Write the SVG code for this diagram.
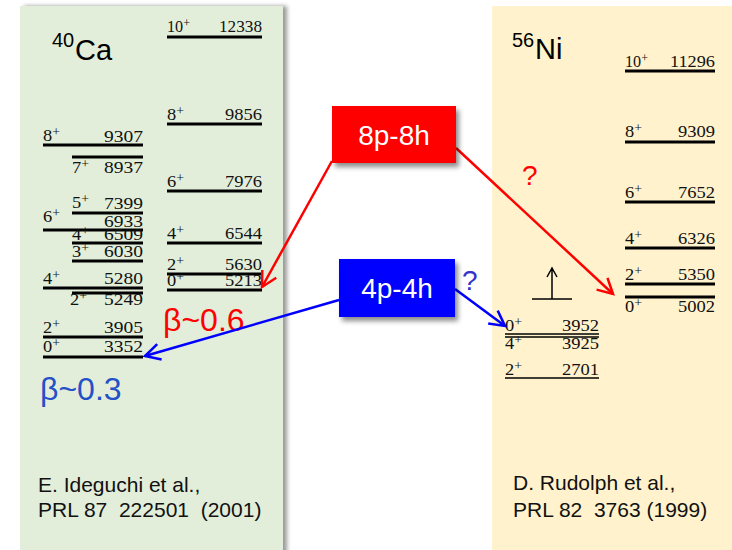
<svg xmlns="http://www.w3.org/2000/svg" width="732" height="550" viewBox="0 0 732 550">
<style>
.lv{font-family:"Liberation Serif","Times New Roman",serif;font-size:16px;fill:#111}
.en{font-family:"Liberation Serif","Times New Roman",serif;font-size:16px;fill:#111;text-anchor:end}
.sup{font-size:12px}
.thick{stroke:#000;stroke-width:3;fill:none}
.thin{stroke:#000;stroke-width:1.5;fill:none}
.sans{font-family:"Liberation Sans",Arial,sans-serif}
.ref{font-family:"Liberation Sans",Arial,sans-serif;font-size:21px;fill:#111}
.box{font-family:"Liberation Sans",Arial,sans-serif;font-size:28px;fill:#fff;text-anchor:middle}
</style>
<defs>
<filter id="sh" x="-10%" y="-10%" width="130%" height="140%">
<feDropShadow dx="3" dy="4" stdDeviation="2.5" flood-color="#000" flood-opacity="0.45"/>
</filter>
<filter id="psh" x="-5%" y="-5%" width="115%" height="110%">
<feDropShadow dx="4" dy="0" stdDeviation="2" flood-color="#000" flood-opacity="0.4"/>
</filter>
<marker id="ahR" viewBox="-17 -10 20 20" markerWidth="20" markerHeight="20" refX="0" refY="0" orient="auto" markerUnits="userSpaceOnUse">
<path d="M-15,-8 L0,0 L-15,8" fill="none" stroke="#ff0000" stroke-width="2.5"/>
</marker>
<marker id="ahB" viewBox="-17 -10 20 20" markerWidth="20" markerHeight="20" refX="0" refY="0" orient="auto" markerUnits="userSpaceOnUse">
<path d="M-15,-8 L0,0 L-15,8" fill="none" stroke="#0000ff" stroke-width="2.5"/>
</marker>
</defs>
<rect width="732" height="550" fill="#fff"/>

<g id="panel-ca">
<rect x="20" y="6" width="263" height="550" fill="#e2eed9" filter="url(#psh)"/>
<text x="52" y="47" class="sans" font-size="20" fill="#000">40</text>
<text x="75" y="60" class="sans" font-size="29" fill="#000">Ca</text>
<!-- left column -->
<text x="43" y="141" class="lv" textLength="17" lengthAdjust="spacingAndGlyphs">8<tspan class="sup" dy="-5">+</tspan></text><text x="143" y="142" class="en" textLength="39" lengthAdjust="spacingAndGlyphs">9307</text>
<line x1="43" y1="145" x2="143" y2="145" class="thick"/>
<line x1="72" y1="157" x2="143" y2="157" class="thick"/>
<text x="72" y="173" class="lv" textLength="17" lengthAdjust="spacingAndGlyphs">7<tspan class="sup" dy="-5">+</tspan></text><text x="143" y="173" class="en" textLength="39" lengthAdjust="spacingAndGlyphs">8937</text>
<text x="72" y="208" class="lv" textLength="17" lengthAdjust="spacingAndGlyphs">5<tspan class="sup" dy="-5">+</tspan></text><text x="143" y="209" class="en" textLength="39" lengthAdjust="spacingAndGlyphs">7399</text>
<line x1="72" y1="213" x2="143" y2="213" class="thick"/>
<text x="43" y="222" class="lv" textLength="17" lengthAdjust="spacingAndGlyphs">6<tspan class="sup" dy="-5">+</tspan></text><text x="143" y="227" class="en" textLength="39" lengthAdjust="spacingAndGlyphs">6933</text>
<line x1="43" y1="230" x2="143" y2="230" class="thick"/>
<text x="72" y="240" class="lv" textLength="17" lengthAdjust="spacingAndGlyphs">4<tspan class="sup" dy="-5">+</tspan></text><text x="143" y="240" class="en" textLength="39" lengthAdjust="spacingAndGlyphs">6509</text>
<line x1="72" y1="243" x2="143" y2="243" class="thick"/>
<text x="72" y="257" class="lv" textLength="17" lengthAdjust="spacingAndGlyphs">3<tspan class="sup" dy="-5">+</tspan></text><text x="143" y="257" class="en" textLength="39" lengthAdjust="spacingAndGlyphs">6030</text>
<line x1="72" y1="261" x2="143" y2="261" class="thick"/>
<text x="43" y="284" class="lv" textLength="17" lengthAdjust="spacingAndGlyphs">4<tspan class="sup" dy="-5">+</tspan></text><text x="143" y="284" class="en" textLength="39" lengthAdjust="spacingAndGlyphs">5280</text>
<line x1="43" y1="288" x2="143" y2="288" class="thick"/>
<line x1="72" y1="293" x2="143" y2="293" class="thick"/>
<text x="70" y="305" class="lv" textLength="17" lengthAdjust="spacingAndGlyphs">2<tspan class="sup" dy="-5">+</tspan></text><text x="143" y="305" class="en" textLength="39" lengthAdjust="spacingAndGlyphs">5249</text>
<text x="43" y="333" class="lv" textLength="17" lengthAdjust="spacingAndGlyphs">2<tspan class="sup" dy="-5">+</tspan></text><text x="143" y="333" class="en" textLength="39" lengthAdjust="spacingAndGlyphs">3905</text>
<line x1="43" y1="337" x2="143" y2="337" class="thick"/>
<text x="43" y="352" class="lv" textLength="17" lengthAdjust="spacingAndGlyphs">0<tspan class="sup" dy="-5">+</tspan></text><text x="143" y="352" class="en" textLength="39" lengthAdjust="spacingAndGlyphs">3352</text>
<line x1="43" y1="357" x2="143" y2="357" class="thick"/>
<!-- right column -->
<text x="167" y="32" class="lv" textLength="23" lengthAdjust="spacingAndGlyphs">10<tspan class="sup" dy="-5">+</tspan></text><text x="262" y="32" class="en" textLength="43" lengthAdjust="spacingAndGlyphs">12338</text>
<line x1="167" y1="37" x2="262" y2="37" class="thick"/>
<text x="167" y="120" class="lv" textLength="17" lengthAdjust="spacingAndGlyphs">8<tspan class="sup" dy="-5">+</tspan></text><text x="262" y="120" class="en" textLength="37" lengthAdjust="spacingAndGlyphs">9856</text>
<line x1="167" y1="124" x2="262" y2="124" class="thick"/>
<text x="167" y="187" class="lv" textLength="17" lengthAdjust="spacingAndGlyphs">6<tspan class="sup" dy="-5">+</tspan></text><text x="262" y="187" class="en" textLength="37" lengthAdjust="spacingAndGlyphs">7976</text>
<line x1="167" y1="191" x2="262" y2="191" class="thick"/>
<text x="167" y="239" class="lv" textLength="17" lengthAdjust="spacingAndGlyphs">4<tspan class="sup" dy="-5">+</tspan></text><text x="262" y="239" class="en" textLength="37" lengthAdjust="spacingAndGlyphs">6544</text>
<line x1="167" y1="243" x2="262" y2="243" class="thick"/>
<text x="167" y="270" class="lv" textLength="17" lengthAdjust="spacingAndGlyphs">2<tspan class="sup" dy="-5">+</tspan></text><text x="262" y="270" class="en" textLength="37" lengthAdjust="spacingAndGlyphs">5630</text>
<line x1="167" y1="274" x2="262" y2="274" class="thick"/>
<text x="167" y="286" class="lv" textLength="17" lengthAdjust="spacingAndGlyphs">0<tspan class="sup" dy="-5">+</tspan></text><text x="262" y="286" class="en" textLength="37" lengthAdjust="spacingAndGlyphs">5213</text>
<line x1="167" y1="290" x2="262" y2="290" class="thick"/>
<text x="163" y="331" class="sans" font-size="32" fill="#ff0000">β~0.6</text>
<text x="40" y="400" class="sans" font-size="32" fill="#2450c8">β~0.3</text>
<text x="38" y="492" class="ref">E. Ideguchi et al.,</text>
<text x="38" y="517" class="ref" xml:space="preserve">PRL 87  222501  (2001)</text>
</g>

<g id="panel-ni">
<rect x="492" y="6" width="245" height="550" fill="#fff2cc"/>
<text x="512" y="47" class="sans" font-size="20" fill="#000">56</text>
<text x="535" y="59" class="sans" font-size="29" fill="#000">Ni</text>
<text x="625" y="67" class="lv" textLength="23" lengthAdjust="spacingAndGlyphs">10<tspan class="sup" dy="-5">+</tspan></text><text x="715" y="67" class="en" textLength="45" lengthAdjust="spacingAndGlyphs">11296</text>
<line x1="625" y1="71" x2="715" y2="71" class="thick"/>
<text x="625" y="137" class="lv" textLength="17" lengthAdjust="spacingAndGlyphs">8<tspan class="sup" dy="-5">+</tspan></text><text x="715" y="137" class="en" textLength="37" lengthAdjust="spacingAndGlyphs">9309</text>
<line x1="625" y1="142" x2="715" y2="142" class="thick"/>
<text x="625" y="198" class="lv" textLength="17" lengthAdjust="spacingAndGlyphs">6<tspan class="sup" dy="-5">+</tspan></text><text x="715" y="198" class="en" textLength="37" lengthAdjust="spacingAndGlyphs">7652</text>
<line x1="625" y1="202" x2="715" y2="202" class="thick"/>
<text x="625" y="244" class="lv" textLength="17" lengthAdjust="spacingAndGlyphs">4<tspan class="sup" dy="-5">+</tspan></text><text x="715" y="244" class="en" textLength="37" lengthAdjust="spacingAndGlyphs">6326</text>
<line x1="625" y1="248" x2="715" y2="248" class="thick"/>
<text x="625" y="280" class="lv" textLength="17" lengthAdjust="spacingAndGlyphs">2<tspan class="sup" dy="-5">+</tspan></text><text x="715" y="280" class="en" textLength="37" lengthAdjust="spacingAndGlyphs">5350</text>
<line x1="625" y1="284" x2="715" y2="284" class="thick"/>
<line x1="625" y1="297" x2="715" y2="297" class="thick"/>
<text x="625" y="312" class="lv" textLength="17" lengthAdjust="spacingAndGlyphs">0<tspan class="sup" dy="-5">+</tspan></text><text x="715" y="312" class="en" textLength="37" lengthAdjust="spacingAndGlyphs">5002</text>
<text x="505" y="331" class="lv" textLength="17" lengthAdjust="spacingAndGlyphs">0<tspan class="sup" dy="-5">+</tspan></text><text x="599" y="331" class="en" textLength="37" lengthAdjust="spacingAndGlyphs">3952</text>
<line x1="505" y1="334" x2="599" y2="334" class="thin"/>
<line x1="505" y1="337" x2="599" y2="337" class="thin"/>
<text x="505" y="349" class="lv" textLength="17" lengthAdjust="spacingAndGlyphs">4<tspan class="sup" dy="-5">+</tspan></text><text x="599" y="349" class="en" textLength="37" lengthAdjust="spacingAndGlyphs">3925</text>
<text x="505" y="375" class="lv" textLength="17" lengthAdjust="spacingAndGlyphs">2<tspan class="sup" dy="-5">+</tspan></text><text x="599" y="375" class="en" textLength="37" lengthAdjust="spacingAndGlyphs">2701</text>
<line x1="505" y1="378" x2="599" y2="378" class="thin"/>
<path d="M532,299 H572 M552,299 V268 M547,277 L552,268 L557,277" fill="none" stroke="#000" stroke-width="1.5"/>
<text x="513" y="490" class="ref">D. Rudolph et al.,</text>
<text x="513" y="517" class="ref" xml:space="preserve">PRL 82  3763 (1999)</text>
</g>

<g id="connectors">
<line x1="332" y1="161" x2="262" y2="287" stroke="#ff0000" stroke-width="2.5" marker-end="url(#ahR)"/>
<line x1="456" y1="148" x2="613" y2="294" stroke="#ff0000" stroke-width="2.5" marker-end="url(#ahR)"/>
<line x1="339" y1="300" x2="145" y2="356" stroke="#0000ff" stroke-width="2.5" marker-end="url(#ahB)"/>
<line x1="455" y1="289" x2="505" y2="326" stroke="#0000ff" stroke-width="2.5" marker-end="url(#ahB)"/>
<text x="522" y="185" class="sans" font-size="28" fill="#ff0000">?</text>
<text x="462" y="290" class="sans" font-size="28" fill="#3333cc">?</text>
</g>

<g id="node-8p8h">
<rect x="332" y="106" width="124" height="57" fill="#ff0000" filter="url(#sh)"/>
<text x="394" y="145" class="box">8p-8h</text>
</g>
<g id="node-4p4h">
<rect x="339" y="259" width="116" height="58" fill="#0000ff" filter="url(#sh)"/>
<text x="397" y="298" class="box">4p-4h</text>
</g>
</svg>
